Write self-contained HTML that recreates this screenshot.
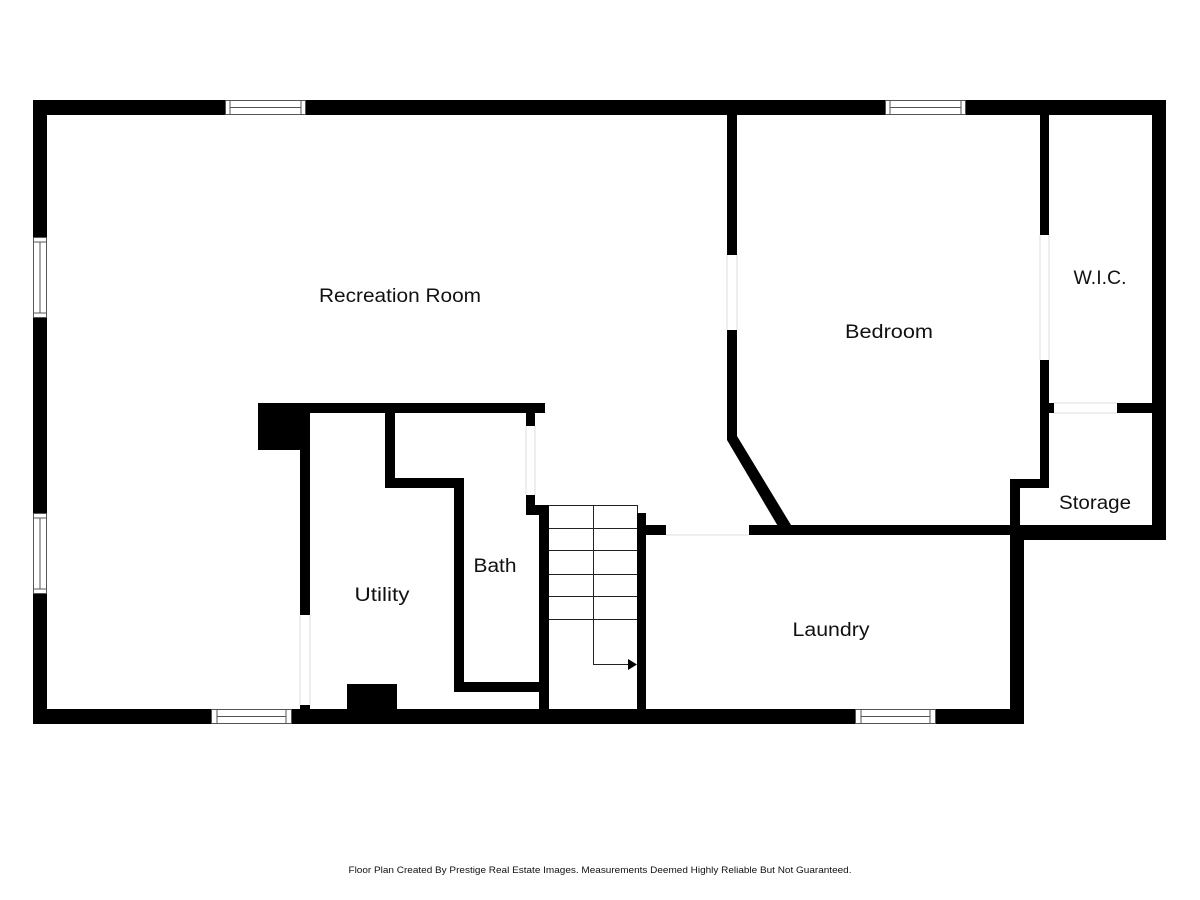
<!DOCTYPE html>
<html><head><meta charset="utf-8"><style>
html,body{margin:0;padding:0;background:#fff;}
svg{display:block;}
text{font-family:"Liberation Sans",sans-serif;fill:#111;}
</style></head><body>
<svg width="1200" height="900" viewBox="0 0 1200 900" xmlns="http://www.w3.org/2000/svg">
<g fill="#000">
<!-- outer walls -->
<rect x="33" y="100" width="1133" height="15"/>
<rect x="33" y="100" width="14" height="624"/>
<rect x="33" y="709" width="991" height="15"/>
<rect x="1152" y="100" width="14" height="440"/>
<rect x="1010" y="525" width="156" height="15"/>
<rect x="1010" y="525" width="14" height="199"/>
<!-- bedroom left wall -->
<rect x="727" y="114" width="10" height="141"/>
<rect x="727" y="330" width="10" height="110"/>
<polygon points="727,440 737,436 791,525 779,528"/>
<!-- laundry top wall -->
<rect x="749" y="525" width="275" height="10"/>
<rect x="637" y="525" width="29" height="10"/>
<!-- WIC / bedroom wall -->
<rect x="1040" y="114" width="9" height="121"/>
<rect x="1040" y="360" width="9" height="128"/>
<rect x="1010" y="479" width="39" height="9"/>
<rect x="1010" y="479" width="10" height="61"/>
<!-- storage top -->
<rect x="1049" y="403" width="5" height="10"/>
<rect x="1117" y="403" width="36" height="10"/>
<!-- utility/bath block -->
<rect x="258" y="403" width="287" height="10"/>
<rect x="258" y="403" width="45" height="47"/>
<rect x="300" y="403" width="10" height="212"/>
<rect x="300" y="705" width="10" height="10"/>
<rect x="385" y="413" width="10" height="75"/>
<rect x="385" y="478" width="79" height="10"/>
<rect x="454" y="478" width="10" height="214"/>
<rect x="454" y="682" width="91" height="10"/>
<rect x="347" y="684" width="50" height="26"/>
<rect x="520" y="403" width="25" height="10"/>
<rect x="526" y="403" width="9" height="23"/>
<rect x="526" y="495" width="9" height="20"/>
<rect x="526" y="505" width="23" height="10"/>
<rect x="539" y="505" width="10" height="210"/>
<rect x="637" y="513" width="9" height="200"/>
</g>
<!-- door gap thin lines -->
<g stroke="#ddd" stroke-width="1" fill="none">
<line x1="727" y1="255" x2="727" y2="330"/><line x1="737" y1="255" x2="737" y2="330"/>
<line x1="1040" y1="235" x2="1040" y2="360"/><line x1="1049" y1="235" x2="1049" y2="360"/>
<line x1="1054" y1="403" x2="1117" y2="403"/><line x1="1054" y1="413" x2="1117" y2="413"/>
<line x1="300" y1="615" x2="300" y2="705"/><line x1="310" y1="615" x2="310" y2="705"/>
<line x1="526" y1="426" x2="526" y2="495"/><line x1="535" y1="426" x2="535" y2="495"/>
<line x1="666" y1="535" x2="749" y2="535"/>
</g>
<!-- stairs -->
<g stroke="#222" stroke-width="1" fill="none">
<line x1="549" y1="505.5" x2="637" y2="505.5"/>
<line x1="549" y1="528.5" x2="637" y2="528.5"/>
<line x1="549" y1="550.5" x2="637" y2="550.5"/>
<line x1="549" y1="574.5" x2="637" y2="574.5"/>
<line x1="549" y1="596.5" x2="637" y2="596.5"/>
<line x1="549" y1="619.5" x2="637" y2="619.5"/>
<line x1="637.5" y1="505" x2="637.5" y2="513"/>
<line x1="593.5" y1="505" x2="593.5" y2="664.5"/>
<line x1="593" y1="664.5" x2="630" y2="664.5"/>
</g>
<polygon points="628,659 637,664.5 628,670" fill="#000"/>
<!-- windows -->
<g fill="#fff" stroke="#555" stroke-width="1">
<rect x="225.5" y="100.5" width="80" height="14"/><line x1="230" y1="107.5" x2="301" y2="107.5"/><line x1="230" y1="101" x2="230" y2="114"/><line x1="301" y1="101" x2="301" y2="114"/>
<rect x="885.5" y="100.5" width="80" height="14"/><line x1="890" y1="107.5" x2="961" y2="107.5"/><line x1="890" y1="101" x2="890" y2="114"/><line x1="961" y1="101" x2="961" y2="114"/>
<rect x="33.5" y="237.5" width="13" height="80"/><line x1="40" y1="242" x2="40" y2="313"/><line x1="34" y1="242" x2="46" y2="242"/><line x1="34" y1="313" x2="46" y2="313"/>
<rect x="33.5" y="513.5" width="13" height="80"/><line x1="40" y1="518" x2="40" y2="589"/><line x1="34" y1="518" x2="46" y2="518"/><line x1="34" y1="589" x2="46" y2="589"/>
<rect x="211.5" y="709.5" width="80" height="14"/><line x1="217" y1="716.5" x2="286" y2="716.5"/><line x1="217" y1="710" x2="217" y2="723"/><line x1="286" y1="710" x2="286" y2="723"/>
<rect x="855.5" y="709.5" width="80" height="14"/><line x1="861" y1="716.5" x2="930" y2="716.5"/><line x1="861" y1="710" x2="861" y2="723"/><line x1="930" y1="710" x2="930" y2="723"/>
</g>
<!-- labels -->
<g font-size="19" text-anchor="middle">
<text x="400" y="302" textLength="162" lengthAdjust="spacingAndGlyphs">Recreation Room</text>
<text x="889" y="338" textLength="88" lengthAdjust="spacingAndGlyphs">Bedroom</text>
<text x="1100" y="284" textLength="53" lengthAdjust="spacingAndGlyphs">W.I.C.</text>
<text x="1095" y="509" textLength="72" lengthAdjust="spacingAndGlyphs">Storage</text>
<text x="382" y="601" textLength="55" lengthAdjust="spacingAndGlyphs">Utility</text>
<text x="495" y="572" textLength="43" lengthAdjust="spacingAndGlyphs">Bath</text>
<text x="831" y="636" textLength="77" lengthAdjust="spacingAndGlyphs">Laundry</text>
</g>
<text x="600" y="873" font-size="9" text-anchor="middle" textLength="503" lengthAdjust="spacingAndGlyphs" fill="#333">Floor Plan Created By Prestige Real Estate Images. Measurements Deemed Highly Reliable But Not Guaranteed.</text>
</svg>
</body></html>
